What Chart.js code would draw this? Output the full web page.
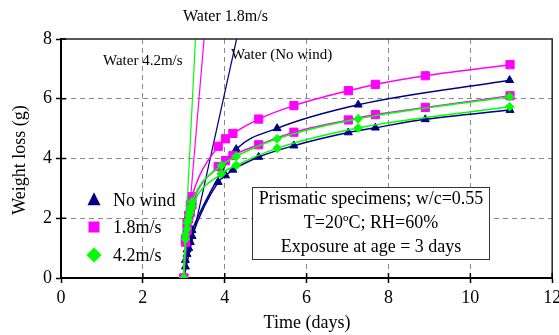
<!DOCTYPE html>
<html><head><meta charset="utf-8">
<script src="https://cdn.jsdelivr.net/npm/chart.js@4/dist/chart.umd.min.js"></script>
<style>html,body{margin:0;padding:0;background:#fff}</style>
</head><body>
<canvas id="c" width="559" height="335" style="display:block;width:559px;height:335px"></canvas>
<script>
// ---- Data ----
// Group A measurement times (days)
const timesA = [3.0, 3.04, 3.08, 3.12, 3.16, 3.2, 3.84, 4.02, 4.2, 4.83, 5.69, 7.02, 7.68, 8.9, 10.97];
const mag18Upper  = [0, 1.3, 1.85, 2.1, 2.45, 2.72, 4.41, 4.66, 4.84, 5.32, 5.77, 6.27, 6.48, 6.77, 7.14];
const mag18Lower  = [0, 1.2, 1.6, 1.98, 2.2, 2.45, 3.73, 3.93, 4.1, 4.46, 4.88, 5.29, 5.47, 5.71, 6.1];
const noWindLower = [0, 0.38, 0.8, 1.0, 1.2, 1.4, 3.21, 3.43, 3.62, 4.05, 4.43, 4.87, 5.03, 5.31, 5.62];
// Group B measurement times (days)
const timesB = [3.0, 3.04, 3.08, 3.12, 3.16, 3.2, 3.92, 4.28, 5.28, 7.26, 10.96];
const noWindUpper = [0, 0.6, 0.95, 1.3, 1.45, 1.6, 3.55, 4.31, 5.01, 5.8, 6.62];
const grn42Upper  = [0, 1.45, 1.85, 2.1, 2.33, 2.55, 3.77, 4.07, 4.66, 5.33, 6.07];
const grn42Lower  = [0, 1.3, 1.65, 1.95, 2.2, 2.4, 3.49, 3.77, 4.34, 5.02, 5.73];
// Free-water evaporation lines
const waterNoWindT = [3.0, 4.29], waterNoWind = [0, 8];
const water18T = [3.0, 3.495], water18 = [0, 8];
const water42T = [2.99, 3.285], water42 = [0, 8];
// Axes
const xTicks = [0, 2, 4, 6, 8, 10, 12];
const yTicks = [0, 2, 4, 6, 8];
const legendLabels = ['No wind', '1.8m/s', '4.2m/s'];
const boxLines = ['Prismatic specimens; w/c=0.55', 'T=20ºC; RH=60%', 'Exposure at age = 3 days'];

const FONT = "'Liberation Serif','Times New Roman',serif";
const NAVY = '#000080', MAG = '#FF00FF', GRN = '#00FF00';
const pts = (t, v) => t.map((x, i) => ({x, y: v[i]}));
function ds(label, t, v, color, style, r, extra) {
  return Object.assign({
    label, data: pts(t, v), borderColor: color, backgroundColor: color,
    pointStyle: style, pointRadius: r, pointHoverRadius: r, pointBorderWidth: 1,
    borderWidth: 1.5, cubicInterpolationMode: 'monotone', fill: false
  }, extra || {});
}
const datasets = [
  ds('Water 4.2m/s', water42T, water42, GRN, 'circle', 0, {borderWidth: 1.2}),
  ds('4.2m/s upper', timesB, grn42Upper, GRN, 'rectRot', 4.3),
  ds('4.2m/s lower', timesB, grn42Lower, GRN, 'rectRot', 4.3),
  ds('Water 1.8m/s', water18T, water18, MAG, 'circle', 0, {borderWidth: 1.2}),
  ds('1.8m/s upper', timesA, mag18Upper, MAG, 'rect', 5.8),
  ds('1.8m/s lower', timesA, mag18Lower, MAG, 'rect', 5.8),
  ds('Water no wind', waterNoWindT, waterNoWind, NAVY, 'circle', 0, {borderWidth: 1.2}),
  ds('No wind upper', timesB, noWindUpper, NAVY, 'triangle', 4.6),
  ds('No wind lower', timesA, noWindLower, NAVY, 'triangle', 4.6)
];

function shape(ctx, style, x, y, s, color) {
  ctx.save(); ctx.fillStyle = color; ctx.strokeStyle = color; ctx.beginPath();
  if (style === 'triangle') {
    ctx.moveTo(x, y - s * 0.6); ctx.lineTo(x + s / 2, y + s * 0.4); ctx.lineTo(x - s / 2, y + s * 0.4);
  } else if (style === 'rect') {
    ctx.rect(x - s / 2, y - s / 2, s, s);
  } else {
    ctx.moveTo(x, y - s / 2); ctx.lineTo(x + s / 2, y); ctx.lineTo(x, y + s / 2); ctx.lineTo(x - s / 2, y);
  }
  ctx.closePath(); ctx.fill(); ctx.restore();
}

const overlay = {
  id: 'overlay',
  afterDatasetsDraw(chart) {
    const ctx = chart.ctx, a = chart.chartArea;
    const xs = chart.scales.x, ys = chart.scales.y;
    ctx.save();
    // frame top/right
    ctx.strokeStyle = '#222'; ctx.lineWidth = 1.5;
    ctx.beginPath(); ctx.moveTo(a.left, a.top); ctx.lineTo(a.right, a.top); ctx.lineTo(a.right, a.bottom); ctx.stroke();
    // inner tick parts
    ctx.strokeStyle = '#000'; ctx.lineWidth = 1.5;
    xTicks.forEach(v => { const px = xs.getPixelForValue(v); ctx.beginPath(); ctx.moveTo(px, a.bottom); ctx.lineTo(px, a.bottom - 5); ctx.stroke(); });
    yTicks.forEach(v => { const py = ys.getPixelForValue(v); ctx.beginPath(); ctx.moveTo(a.left, py); ctx.lineTo(a.left + 5, py); ctx.stroke(); });
    // water labels
    ctx.fillStyle = '#000'; ctx.textBaseline = 'middle'; ctx.textAlign = 'left';
    ctx.font = '16px ' + FONT; ctx.fillText('Water 1.8m/s', 183, 17);
    ctx.font = '15px ' + FONT; ctx.fillText('Water 4.2m/s', 103, 61);
    ctx.fillText('Water (No wind)', 231, 55);
    // legend
    ctx.font = '18px ' + FONT;
    const lg = [[NAVY, 'triangle', 13], [MAG, 'rect', 11], [GRN, 'rectRot', 15]];
    const ly = [200, 227, 255];
    lg.forEach((l, i) => { shape(ctx, l[1], 94, ly[i], l[2], l[0]); ctx.fillStyle = '#000'; ctx.fillText(legendLabels[i], 113, ly[i] + 1); });
    // annotation box
    ctx.fillStyle = '#fff'; ctx.fillRect(252, 187, 237, 72);
    ctx.strokeStyle = '#333'; ctx.lineWidth = 1; ctx.strokeRect(252.5, 187.5, 237, 72);
    ctx.fillStyle = '#000'; ctx.textAlign = 'center'; ctx.font = '18px ' + FONT;
    [199, 223, 247].forEach((y, i) => ctx.fillText(boxLines[i], 371, y));
    // axis titles
    ctx.fillText('Time (days)', 307, 323);
    ctx.save(); ctx.translate(20, 160); ctx.rotate(-Math.PI / 2); ctx.fillText('Weight loss (g)', 0, 0); ctx.restore();
    ctx.restore();
  }
};

const gridColor = (edgeA, edgeB) => c => (c.tick && (c.tick.value === edgeA || c.tick.value === edgeB)) ? 'rgba(0,0,0,0)' : '#8a8a8a';

new Chart(document.getElementById('c'), {
  type: 'line',
  data: {datasets},
  options: {
    responsive: false, animation: false, devicePixelRatio: 1,
    layout: {padding: {top: 39, right: 6, left: 0, bottom: 0}},
    plugins: {legend: {display: false}, tooltip: {enabled: false}},
    scales: {
      x: {
        type: 'linear', min: 0, max: 12,
        afterFit(s) { s.height = 57; s.paddingRight = 0; s.paddingLeft = 0; },
        afterBuildTicks(s) { s.ticks = xTicks.map(v => ({value: v})); },
        ticks: {font: {family: FONT, size: 18}, color: '#000', padding: 4, maxRotation: 0, autoSkip: false},
        grid: {color: gridColor(0, 12), lineWidth: 1, tickColor: '#000', tickLength: 5, tickWidth: 1.5},
        border: {color: '#000', width: 2, dash: [5, 4]}
      },
      y: {
        type: 'linear', min: 0, max: 8,
        afterFit(s) { s.width = 61; },
        afterBuildTicks(s) { s.ticks = yTicks.map(v => ({value: v})); },
        ticks: {font: {family: FONT, size: 18}, color: '#000', padding: 4, autoSkip: false},
        grid: {color: gridColor(0, 8), lineWidth: 1, tickColor: '#000', tickLength: 5, tickWidth: 1.5},
        border: {color: '#000', width: 2, dash: [5, 4]}
      }
    }
  },
  plugins: [overlay]
});
</script>
</body></html>
